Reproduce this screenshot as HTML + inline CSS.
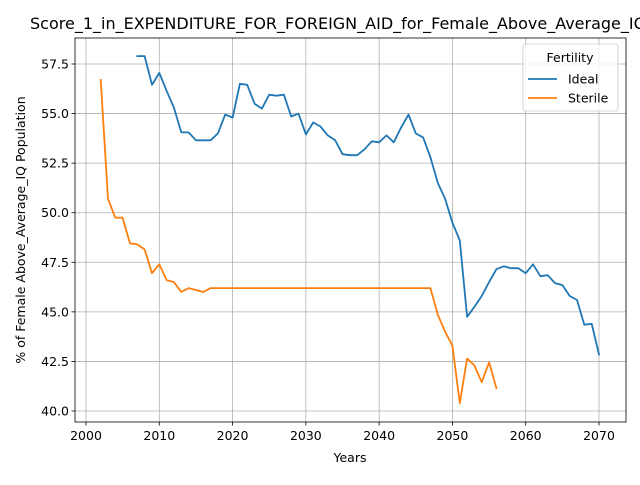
<!DOCTYPE html>
<html><head><meta charset="utf-8"><style>
body{margin:0;background:#fff}
svg{font-family:"DejaVu Sans","Liberation Sans",sans-serif}
</style></head><body>
<svg id="chart" width="640" height="480" xmlns="http://www.w3.org/2000/svg"></svg>
<script>
const xTicks=[2000,2010,2020,2030,2040,2050,2060,2070];
const yTicks=[40.0,42.5,45.0,47.5,50.0,52.5,55.0,57.5];
const idealYears=[2007,2008,2009,2010,2011,2012,2013,2014,2015,2016,2017,2018,2019,2020,2021,2022,2023,2024,2025,2026,2027,2028,2029,2030,2031,2032,2033,2034,2035,2036,2037,2038,2039,2040,2041,2042,2043,2044,2045,2046,2047,2048,2049,2050,2051,2052,2053,2054,2055,2056,2057,2058,2059,2060,2061,2062,2063,2064,2065,2066,2067,2068,2069,2070];
const idealValues=[57.9,57.9,56.45,57.05,56.15,55.3,54.05,54.05,53.65,53.65,53.65,54.0,54.95,54.8,56.5,56.45,55.5,55.25,55.95,55.9,55.95,54.85,55.0,53.95,54.55,54.35,53.9,53.65,52.95,52.9,52.9,53.2,53.6,53.55,53.9,53.55,54.3,54.95,54.0,53.8,52.8,51.5,50.7,49.5,48.6,44.75,45.25,45.8,46.5,47.15,47.3,47.2,47.2,46.95,47.4,46.8,46.85,46.45,46.35,45.8,45.6,44.35,44.4,42.85];
const sterileYears=[2002,2003,2004,2005,2006,2007,2008,2009,2010,2011,2012,2013,2014,2015,2016,2017,2018,2019,2020,2021,2022,2023,2024,2025,2026,2027,2028,2029,2030,2031,2032,2033,2034,2035,2036,2037,2038,2039,2040,2041,2042,2043,2044,2045,2046,2047,2048,2049,2050,2051,2052,2053,2054,2055,2056];
const sterileValues=[56.7,50.7,49.75,49.75,48.45,48.4,48.15,46.95,47.4,46.6,46.5,46.0,46.2,46.1,46.0,46.2,46.2,46.2,46.2,46.2,46.2,46.2,46.2,46.2,46.2,46.2,46.2,46.2,46.2,46.2,46.2,46.2,46.2,46.2,46.2,46.2,46.2,46.2,46.2,46.2,46.2,46.2,46.2,46.2,46.2,46.2,44.85,44.0,43.3,40.4,42.65,42.3,41.45,42.45,41.15];

const L=75,R=626,T=38,B=422;
const X=v=>86+(v-2000)*(599-86)/70;
const Y=v=>411-(v-40)*(411-64)/17.5;
const svg=document.getElementById('chart');
const NS='http://www.w3.org/2000/svg';
function mk(tag,attrs,parent){const e=document.createElementNS(NS,tag);for(const k in attrs)e.setAttribute(k,attrs[k]);(parent||svg).appendChild(e);return e;}

xTicks.forEach(t=>{
  const g=mk('line',{x1:X(t),x2:X(t),y1:T,y2:B,stroke:'#b0b0b0','stroke-width':0.8});
  
  
  mk('line',{x1:X(t),x2:X(t),y1:B,y2:B+3.5,stroke:'#000','stroke-width':0.8});
  const tx=mk('text',{x:X(t),y:B+18,'text-anchor':'middle','font-size':12.5,fill:'#000'});
  tx.textContent=t;
  
  
});
yTicks.forEach(t=>{
  const g=mk('line',{x1:L,x2:R,y1:Y(t),y2:Y(t),stroke:'#b0b0b0','stroke-width':0.8});
  
  
  mk('line',{x1:L-3.5,x2:L,y1:Y(t),y2:Y(t),stroke:'#000','stroke-width':0.8});
  const tx=mk('text',{x:L-6,y:Y(t)+4.5,'text-anchor':'end','font-size':12.5,fill:'#000'});
  tx.textContent=t.toFixed(1);
  
  
});

function series(xs,ys,color,name){
  const d=xs.map((x,i)=>(i?'L':'M')+X(x).toFixed(1)+','+Y(ys[i]).toFixed(1)).join('');
  const p=mk('path',{d:d,fill:'none',stroke:color,'stroke-width':1.8,'stroke-linejoin':'round','stroke-linecap':'square'});
  
  
}
series(idealYears,idealValues,'#1f77b4','ideal-line');
series(sterileYears,sterileValues,'#ff7f0e','sterile-line');

const frame=mk('rect',{x:L,y:T,width:R-L,height:B-T,fill:'none',stroke:'#000','stroke-width':0.8});



const title=mk('text',{x:30,y:29,'text-anchor':'start','font-size':16,fill:'#000'});
title.textContent='Score_1_in_EXPENDITURE_FOR_FOREIGN_AID_for_Female_Above_Average_IQ';


const xl=mk('text',{x:350,y:462,'text-anchor':'middle','font-size':12.5,fill:'#000'});
xl.textContent='Years';


const yl=mk('text',{x:0,y:0,'text-anchor':'middle','font-size':12.5,fill:'#000',transform:'translate(25,230) rotate(-90)'});
yl.textContent='% of Female Above_Average_IQ Population';



const lg=mk('g',{});


mk('rect',{x:523,y:44,width:95,height:67,rx:2.5,fill:'#fff','fill-opacity':0.8,stroke:'#ccc','stroke-width':0.8},lg);
const lt=mk('text',{x:570,y:62,'text-anchor':'middle','font-size':12.5,fill:'#000'},lg);
lt.textContent='Fertility';


[['Ideal','#1f77b4',79],['Sterile','#ff7f0e',98]].forEach(([n,c,y])=>{
  const e=mk('g',{},lg);
  
  
  mk('line',{x1:528,x2:557,y1:y,y2:y,stroke:c,'stroke-width':1.8},e);
  const t=mk('text',{x:568,y:y+4.5,'font-size':12.5,fill:'#000'},e);
  t.textContent=n;
});
</script>
</body></html>
